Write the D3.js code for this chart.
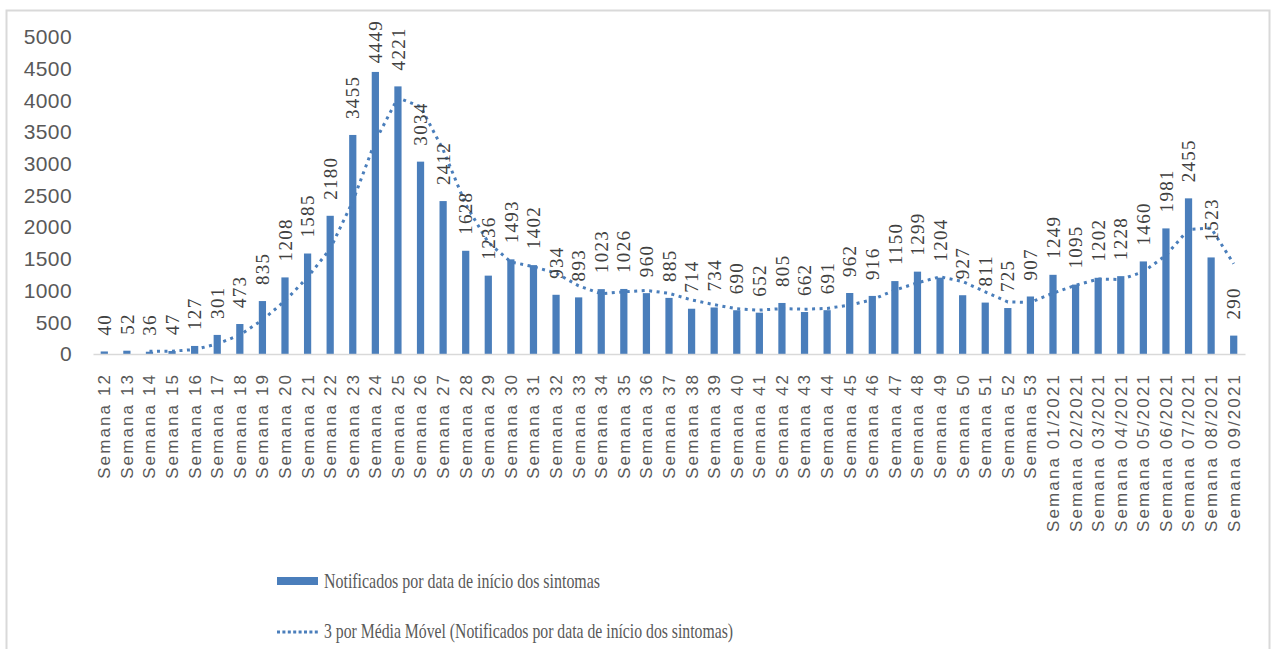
<!DOCTYPE html>
<html>
<head>
<meta charset="utf-8">
<script src="https://cdn.jsdelivr.net/npm/d3@7"></script>
<style>
  html, body { margin: 0; padding: 0; background: #ffffff; }
  svg { display: block; }
</style>
</head>
<body>
<svg id="chart" width="1271" height="649"></svg>
<script>
// ---- DATA ----
const categories = [
  "Semana 12","Semana 13","Semana 14","Semana 15","Semana 16","Semana 17","Semana 18","Semana 19",
  "Semana 20","Semana 21","Semana 22","Semana 23","Semana 24","Semana 25","Semana 26","Semana 27",
  "Semana 28","Semana 29","Semana 30","Semana 31","Semana 32","Semana 33","Semana 34","Semana 35",
  "Semana 36","Semana 37","Semana 38","Semana 39","Semana 40","Semana 41","Semana 42","Semana 43",
  "Semana 44","Semana 45","Semana 46","Semana 47","Semana 48","Semana 49","Semana 50","Semana 51",
  "Semana 52","Semana 53","Semana 01/2021","Semana 02/2021","Semana 03/2021","Semana 04/2021",
  "Semana 05/2021","Semana 06/2021","Semana 07/2021","Semana 08/2021","Semana 09/2021"
];
const notificados = [
  40, 52, 36, 47, 127, 301, 473, 835,
  1208, 1585, 2180, 3455, 4449, 4221, 3034, 2412,
  1628, 1236, 1493, 1402, 934, 893, 1023, 1026,
  960, 885, 714, 734, 690, 652, 805, 662,
  691, 962, 916, 1150, 1299, 1204, 927, 811,
  725, 907, 1249, 1095, 1202, 1228,
  1460, 1981, 2455, 1523, 290
];
// 3-period moving average trendline (first two periods undefined)
const mediaMovel = [
  null, null, 43, 45, 70, 158, 300, 536,
  839, 1209, 1658, 2407, 3361, 4042, 3901, 3222,
  2358, 1759, 1452, 1377, 1276, 1076, 950, 981,
  1003, 957, 853, 778, 713, 692, 716, 706,
  719, 772, 856, 1009, 1122, 1218, 1143, 981,
  821, 814, 960, 1084, 1182, 1175,
  1297, 1556, 1965, 1986, 1423
];
const yTicks = [0, 500, 1000, 1500, 2000, 2500, 3000, 3500, 4000, 4500, 5000];
const legendLabels = [
  "Notificados por data de início dos sintomas",
  "3 por Média Móvel (Notificados por data de início dos sintomas)"
];

// ---- STYLE ----
const barColor = "#4a7ebb";
const textGray = "#595959";
const labelGray = "#404040";

const svg = d3.select("#chart");

// outer border
svg.append("rect")
  .attr("x", 6.5).attr("y", 10.5)
  .attr("width", 1263).attr("height", 660)
  .attr("fill", "#ffffff")
  .attr("stroke", "#d9d9d9").attr("stroke-width", 2);

const x = d3.scaleBand()
  .domain(categories)
  .range([93, 1245])
  .paddingInner(0.68)
  .paddingOuter(0.34);

const y = d3.scaleLinear().domain([0, 5000]).range([354, 37]);

// Y axis
const yAxis = svg.append("g")
  .attr("transform", "translate(75,0)")
  .call(d3.axisLeft(y).tickValues(yTicks).tickSize(0).tickPadding(3).tickFormat(d3.format("d")));
yAxis.select(".domain").remove();
yAxis.selectAll("text")
  .attr("fill", textGray)
  .style("font-family", "'Liberation Sans', Arial, sans-serif")
  .style("font-size", "21px")
  .style("letter-spacing", "0.4px");

// bars
svg.append("g").selectAll("rect")
  .data(notificados)
  .join("rect")
  .attr("x", (d, i) => x(categories[i]))
  .attr("y", d => y(d))
  .attr("width", x.bandwidth())
  .attr("height", d => y(0) - y(d))
  .attr("fill", barColor);

// X axis
const xAxis = svg.append("g")
  .attr("transform", "translate(0," + y(0) + ")")
  .call(d3.axisBottom(x).tickSize(0).tickSizeOuter(0));
xAxis.select(".domain").attr("stroke", "#d9d9d9").attr("stroke-width", 1.5);
xAxis.selectAll("text")
  .attr("transform", "rotate(-90)")
  .attr("x", -19)
  .attr("y", 0)
  .attr("dy", "0.35em")
  .attr("text-anchor", "end")
  .attr("fill", textGray)
  .style("font-family", "'Liberation Sans', Arial, sans-serif")
  .style("font-size", "17px")
  .style("letter-spacing", "2.1px");

// moving average line
const line = d3.line()
  .defined(d => d != null)
  .x((d, i) => x(categories[i]) + x.bandwidth() / 2)
  .y(d => y(d));
svg.append("path")
  .datum(mediaMovel)
  .attr("d", line)
  .attr("fill", "none")
  .attr("stroke", barColor)
  .attr("stroke-width", 3)
  .attr("stroke-dasharray", "3,4.5");

// value labels
const labels = svg.append("g").selectAll("text")
  .data(notificados)
  .join("text")
  .text(d => d)
  .attr("text-anchor", "start")
  .attr("dy", "0.35em")
  .attr("fill", labelGray)
  .style("font-family", "'Liberation Serif', 'Times New Roman', serif")
  .style("font-size", "19px")
  .style("letter-spacing", "1.3px");
labels.each(function(d, i) {
  const len = this.getComputedTextLength();
  let ys = y(d) - 16;
  if (ys - len < 20) ys = 20 + len;
  const cx = x(categories[i]) + x.bandwidth() / 2;
  d3.select(this).attr("transform", "translate(" + cx + "," + ys + ") rotate(-90)");
});

// legend
const lg = svg.append("g");
lg.append("rect")
  .attr("x", 277).attr("y", 577).attr("width", 41).attr("height", 8)
  .attr("fill", barColor);
lg.append("text")
  .attr("x", 324).attr("y", 588)
  .attr("fill", textGray)
  .attr("textLength", 276).attr("lengthAdjust", "spacingAndGlyphs")
  .style("font-family", "'Liberation Serif', 'Times New Roman', serif")
  .style("font-size", "21px")
  .text(legendLabels[0]);
lg.append("line")
  .attr("x1", 277).attr("x2", 318).attr("y1", 632).attr("y2", 632)
  .attr("stroke", barColor).attr("stroke-width", 3)
  .attr("stroke-dasharray", "3,2.4");
lg.append("text")
  .attr("x", 324).attr("y", 638)
  .attr("fill", textGray)
  .attr("textLength", 409).attr("lengthAdjust", "spacingAndGlyphs")
  .style("font-family", "'Liberation Serif', 'Times New Roman', serif")
  .style("font-size", "21px")
  .text(legendLabels[1]);
</script>
</body>
</html>
